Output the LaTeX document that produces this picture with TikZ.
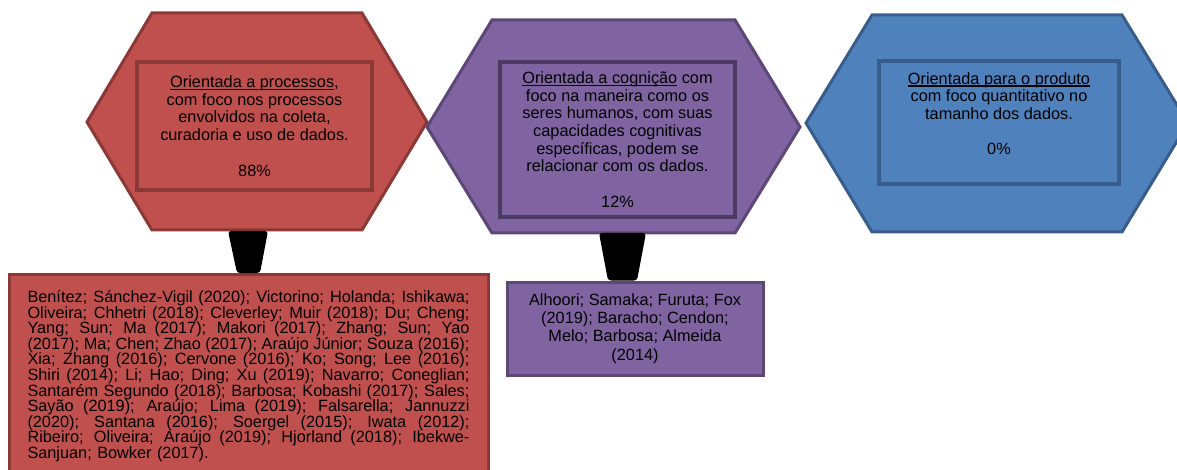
\documentclass[tikz,border=0pt]{standalone}
\usepackage{fontspec}
\setmainfont{Liberation Sans}
\usetikzlibrary{calc}

\definecolor{redfill}{HTML}{C0504D}
\definecolor{redline}{HTML}{8C3836}
\definecolor{purplefill}{HTML}{8064A2}
\definecolor{purpleline}{HTML}{5C4776}
\definecolor{purpleinner}{HTML}{4B3B63}
\definecolor{bluefill}{HTML}{4F81BD}
\definecolor{blueline}{HTML}{385D8A}

\newcommand{\ulin}[1]{\leavevmode\setbox0\hbox{#1}\rlap{\rule[-2.6pt]{\wd0}{1.3pt}}\box0\relax}
\newcommand{\jrow}[1]{\hbox to 442pt{\spaceskip=4.53pt plus 12pt minus 1.3pt\relax #1}}

\begin{document}
\begin{tikzpicture}[x=1pt,y=-1pt,inner sep=0pt,line join=miter,
  hex/.style={line width=3pt},
  inbox/.style={draw,line width=4pt,align=center,font=\fontsize{16.3}{17.7}\selectfont},
  listbox/.style={draw,line width=3pt},
  stem/.style={fill=black,rounded corners=3pt}]
\useasboundingbox (0,0) rectangle (1177,470);
\clip (0,0) rectangle (1177,470);
% hexagons
\draw[hex,fill=redfill,draw=redline] (87,122) -- (152,13) -- (362,13) -- (427,122) -- (362,230) -- (152,230) -- cycle;
\draw[hex,fill=purplefill,draw=purpleline] (427,127) -- (492,20) -- (735,20) -- (800,127) -- (735,233) -- (492,233) -- cycle;
\draw[hex,fill=bluefill,draw=blueline] (806,123) -- (872,15) -- (1122,15) -- (1188,123) -- (1122,232) -- (872,232) -- cycle;
%
\node[inbox,draw=redline,minimum width=235pt,minimum height=128pt] (proc) at (254.5,126)
  {\ulin{Orientada a processos},\\ com foco nos processos\\ envolvidos na coleta,\\ curadoria e uso de dados.\\[17.7pt] 88\%};
\node[inbox,draw=purpleinner,minimum width=235pt,minimum height=155pt] (cogn) at (617.5,139.5)
  {\ulin{Orientada a cognição} com\\ foco na maneira como os\\ seres humanos, com suas\\ capacidades cognitivas\\ específicas, podem se\\ relacionar com os dados.\\[17.7pt] 12\%};
\node[inbox,draw=blueline,minimum width=240pt,minimum height=123pt] (prod) at (999,122.5)
  {\ulin{Orientada para o produto}\\ com foco quantitativo no\\ tamanho dos dados.\\[17.7pt] 0\%\\ \mbox{}};
%
\coordinate (rstem) at (248,231);
\coordinate (pstem) at (622,233);
%
\node[listbox,fill=redfill,draw=redline,anchor=north,text width=442pt,inner xsep=18.5pt,inner ysep=16pt,
  font=\fontsize{16.3}{15.6}\selectfont] (proclist) at (248.5,273) {%
\jrow{Benítez; Sánchez-Vigil (2020); Victorino; Holanda; Ishikawa;}
\jrow{Oliveira; Chhetri (2018); Cleverley; Muir (2018); Du; Cheng;}
\jrow{Yang; Sun; Ma (2017); Makori (2017); Zhang; Sun; Yao}
\jrow{(2017); Ma; Chen; Zhao (2017); Araújo Júnior; Souza (2016);}
\jrow{Xia; Zhang (2016); Cervone (2016); Ko; Song; Lee (2016);}
\jrow{Shiri (2014); Li; Hao; Ding; Xu (2019); Navarro; Coneglian;}
\jrow{Santarém Segundo (2018); Barbosa; Kobashi (2017); Sales;}
\jrow{Sayão (2019); Araújo; Lima (2019); Falsarella; Jannuzzi}
\jrow{(2020); Santana (2016); Soergel (2015); Iwata (2012);}
\jrow{Ribeiro; Oliveira; Araújo (2019); Hjorland (2018); Ibekwe-}
\hbox{Sanjuan; Bowker (2017).}};
\node[listbox,fill=purplefill,draw=purpleline,minimum width=256pt,minimum height=93pt,align=center,
  font=\fontsize{16.3}{18.3}\selectfont] (cognlist) at (635,328.5)
  {Alhoori; Samaka; Furuta; Fox\\ (2019); Baracho; Cendon;\\ Melo; Barbosa; Almeida\\ (2014)};
%
\fill[stem] ($(rstem)+(-20,0)$) -- ($(rstem)+(20,0)$) -- ($(rstem |- proclist.north)+(12,0)$) -- ($(rstem |- proclist.north)+(-11,0)$) -- cycle;
\fill[stem] ($(pstem)+(-23,0)$) -- ($(pstem)+(24,0)$) -- ($(pstem |- cognlist.north)+(15,0)$) -- ($(pstem |- cognlist.north)+(-14,0)$) -- cycle;
\end{tikzpicture}
\end{document}
